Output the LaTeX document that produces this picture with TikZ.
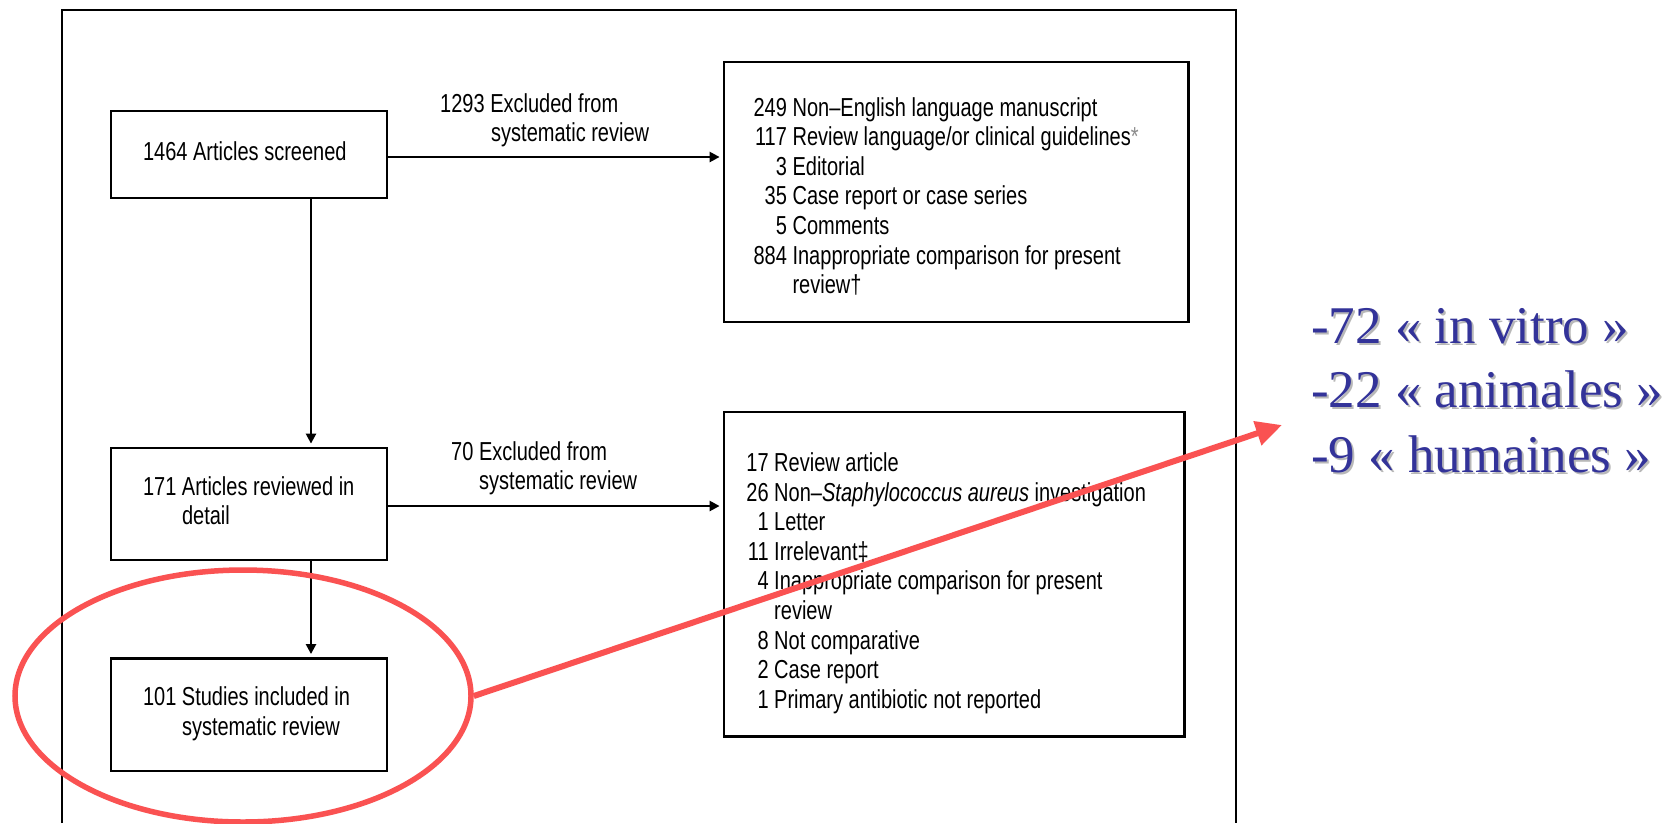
\documentclass[tikz,border=0pt]{standalone}
\usepackage{fontspec}
\setmainfont{Liberation Sans}
\newfontfamily\narrowsans[FakeStretch=0.77]{Liberation Sans}
\newfontfamily\slideserif{Liberation Serif}
\usetikzlibrary{arrows.meta,shapes.geometric}
\definecolor{hired}{RGB}{250,82,82}
\definecolor{slideblue}{RGB}{51,51,153}
\begin{document}
\begin{tikzpicture}[x=1pt,y=-1pt,
  box/.style={draw=black, line width=2.8pt, rectangle, inner sep=0pt,
    font={\narrowsans\fontsize{26pt}{29.6pt}\selectfont}},
  lbl/.style={inner sep=0pt, font={\narrowsans\fontsize{26pt}{29.6pt}\selectfont}},
  arr/.style={line width=2.4pt, -{Triangle[length=10pt,width=10pt]}, shorten >=3pt},
  frameline/.style={line width=2.4pt, draw=black},
  bluetxt/.style={inner sep=0pt, font={\slideserif\fontsize{53pt}{64.5pt}\selectfont}},
  hilite/.style={draw=hired, line width=5.5pt}]
\useasboundingbox (0,0) rectangle (1677,823);
\fill[white] (0,0) rectangle (1677,823);
% outer frame
\draw[frameline] (62,823) -- (62,10) -- (1236,10) -- (1236,823);
% left column boxes
\node[box, minimum width=276pt, minimum height=87pt] (b1) at (249,154.5)
  {\makebox[212pt][l]{\begin{tabular}{@{}l@{}}1464 Articles screened\end{tabular}}};
\node[box, minimum width=276pt, minimum height=112pt] (b3) at (249,504)
  {\makebox[212pt][l]{\begin{tabular}{@{}l@{}}171 Articles reviewed in\\\hspace*{39pt}detail\end{tabular}}};
\node[box, minimum width=276pt, minimum height=112.5pt] (b4) at (249,714.7)
  {\makebox[212pt][l]{\begin{tabular}{@{}l@{}}101 Studies included in\\\hspace*{39pt}systematic review\end{tabular}}};
% right column boxes
\node[box, minimum width=464.6pt, minimum height=260pt] (b2) at (956.3,192)
  {\raisebox{-6.9pt}[\height][\depth]{\makebox[405.4pt][l]{\begin{tabular}{@{}r@{\ }l@{}}
  249 & Non–English language manuscript\\
  117 & Review language/or clinical guidelines\textcolor{black!45}{*}\\
  3 & Editorial\\
  35 & Case report or case series\\
  5 & Comments\\
  884 & Inappropriate comparison for present\\
   & review†
  \end{tabular}}}};
\node[box, minimum width=460.6pt, minimum height=324.5pt] (b5) at (954.3,574.3)
  {\raisebox{-9.6pt}[\height][\depth]{\makebox[415.8pt][l]{\begin{tabular}{@{}r@{\ }l@{}}
  17 & Review article\\
  26 & Non–\textit{Staphylococcus aureus} investigation\\
  1 & Letter\\
  11 & Irrelevant‡\\
  4 & Inappropriate comparison for present\\
   & review\\
  8 & Not comparative\\
  2 & Case report\\
  1 & Primary antibiotic not reported
  \end{tabular}}}};
% connectors
\draw[arr] ([xshift=62pt]b1.south) -- ([xshift=62pt]b3.north);
\draw[arr] ([xshift=62pt]b3.south) -- ([xshift=62pt]b4.north);
\draw[arr] ([yshift=-2.5pt]b1.east) -- ([yshift=-2.5pt]b1.east -| b2.west);
\draw[arr] ([yshift=-2pt]b3.east) -- ([yshift=-2pt]b3.east -| b5.west);
% connector labels
\node[lbl, anchor=base west] (l1) at (440,112)
  {\begin{tabular}[t]{@{}l@{}}1293 Excluded from\\\hspace*{51pt}systematic review\end{tabular}};
\node[lbl, anchor=base west] (l2) at (451,460)
  {\begin{tabular}[t]{@{}l@{}}70 Excluded from\\\hspace*{28pt}systematic review\end{tabular}};
% slide annotation
\node[bluetxt, text=black!28, anchor=base west] (bts) at (1313,345)
  {\begin{tabular}[t]{@{}l@{}}-72 « in vitro »\\-22 « animales »\\-9 « humaines »\end{tabular}};
\node[bluetxt, text=slideblue, anchor=base west] (bt) at (1311,343)
  {\begin{tabular}[t]{@{}l@{}}-72 « in vitro »\\-22 « animales »\\-9 « humaines »\end{tabular}};
% red highlight
\node[hilite, ellipse, minimum width=456pt, minimum height=252pt, inner sep=0pt] (ell) at (243,696) {};
\coordinate (tip) at (1282,425);
\draw[draw=hired, line width=6pt, -{Triangle[length=26pt,width=24pt]}] (ell.east) -- (tip);
\end{tikzpicture}
\end{document}
